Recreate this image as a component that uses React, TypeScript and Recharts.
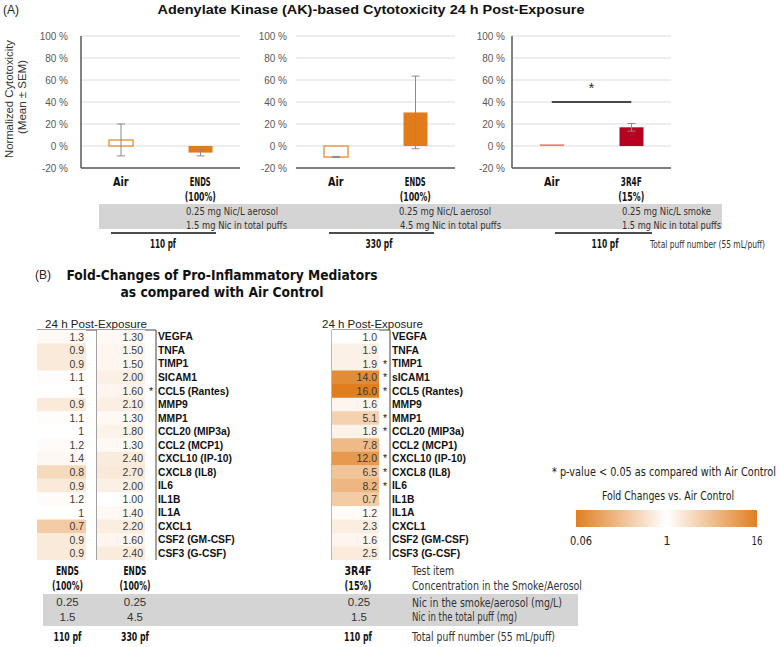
import React from 'react'
import {
  BarChart, Bar, XAxis, YAxis, CartesianGrid, ErrorBar, Cell,
  ReferenceLine, Label, LabelList,
} from 'recharts'

const SANS = '"Liberation Sans", Arial, Helvetica, sans-serif'
const NARROW = '"Liberation Sans Narrow", "Arial Narrow", "DejaVu Sans Condensed", sans-serif'

// (A) AK cytotoxicity, % of control
const akTicks = [-20, 0, 20, 40, 60, 80, 100]
const ak110Cats = ['Air', 'ENDS|(100%)']
const ak110Mean = [5.5, -6]
const ak110Sem = [14.5, 3]
const ak330Cats = ['Air', 'ENDS|(100%)']
const ak330Mean = [-10, 30.5]
const ak330Sem = [0.5, 33]
const ak3r4fCats = ['Air', '3R4F|(15%)']
const ak3r4fMean = [1.5, 17]
const ak3r4fSem = [0, 3.5]

// (B) fold changes vs air
const genes = [
  'VEGFA', 'TNFA', 'TIMP1', 'SICAM1', 'CCL5 (Rantes)', 'MMP9', 'MMP1', 'CCL20 (MIP3a)',
  'CCL2 (MCP1)', 'CXCL10 (IP-10)', 'CXCL8 (IL8)', 'IL6', 'IL1B', 'IL1A', 'CXCL1',
  'CSF2 (GM-CSF)', 'CSF3 (G-CSF)',
]
const genes3r4f = genes.map((g) => (g === 'SICAM1' ? 'sICAM1' : g))
const fc110 = [1.3, 0.9, 0.9, 1.1, 1, 0.9, 1.1, 1, 1.2, 1.4, 0.8, 0.9, 1.2, 1, 0.7, 0.9, 0.9]
const fc330 = [1.3, 1.5, 1.5, 2.0, 1.6, 2.1, 1.3, 1.8, 1.3, 2.4, 2.7, 2.0, 1.0, 1.4, 2.2, 1.6, 2.4]
const fc3r4f = [1.0, 1.9, 1.9, 14.0, 16.0, 1.6, 5.1, 1.8, 7.8, 12.0, 6.5, 8.2, 0.7, 1.2, 2.3, 1.6, 2.5]
const sig330 = [0, 0, 0, 0, 1, 0, 0, 0, 0, 0, 0, 0, 0, 0, 0, 0, 0]
const sig3r4f = [0, 0, 1, 1, 1, 0, 1, 1, 0, 1, 1, 1, 0, 0, 0, 0, 0]
const scaleLabels = ['0.06', '1', '16']

const ORANGE = [224, 126, 30]
function foldColor(v: number) {
  const lo = Number(scaleLabels[0])
  const hi = Number(scaleLabels[2])
  let t = v >= 1 ? (v - 1) / (hi - 1) : (1 - v) / (1 - lo)
  t = Math.pow(Math.min(1, Math.max(0, t)), 0.8)
  const c = ORANGE.map((o) => Math.round(255 - t * (255 - o)))
  return `rgb(${c[0]},${c[1]},${c[2]})`
}

function Txt({ x, y, size = 11, bold = false, font = SANS, anchor = 'start', len, fill = '#222', children }: any) {
  return (
    <text
      x={x}
      y={y + size * 0.35}
      fontSize={size}
      fontWeight={bold ? 700 : 400}
      fontFamily={font}
      textAnchor={anchor}
      fill={fill}
      textLength={len}
      lengthAdjust={len ? 'spacingAndGlyphs' : undefined}
    >
      {children}
    </text>
  )
}

// two-line condensed bold category labels
function CatTick({ x, y, payload }: any) {
  const lines = String(payload.value).split('|')
  return (
    <g>
      {lines.map((l, i) => (
        <text
          key={i}
          x={x}
          y={y + 16 + i * 15}
          textAnchor="middle"
          fontFamily={NARROW}
          fontWeight={700}
          fontSize={12}
          fill="#111"
          textLength={l.length * 5.2}
          lengthAdjust="spacingAndGlyphs"
        >
          {l}
        </text>
      ))}
    </g>
  )
}

const BAR_STYLE: Record<string, { fill: string; stroke?: string }> = {
  air: { fill: '#ffffff', stroke: '#eb9a48' },
  ends: { fill: '#e07c1c' },
  airSmoke: { fill: '#ec7a68' },
  smoke: { fill: '#b80020' },
}

function AkChart({ left, cats, means, sems, styles, tickGap, axisLine, sig }: any) {
  const rows = cats.map((c: string, i: number) => ({ cat: c, mean: means[i], sem: sems[i] }))
  return (
    <div style={{ position: 'absolute', left, top: 0 }}>
      <BarChart width={250} height={210} data={rows} margin={{ top: 36, right: 10, left: 0, bottom: 0 }} barSize={24}>
        <CartesianGrid vertical={false} stroke="#dcdcdc" />
        <XAxis
          dataKey="cat"
          height={42}
          interval={0}
          tickSize={0}
          tickLine={false}
          axisLine={{ stroke: '#595959', strokeWidth: 1.5 }}
          tick={<CatTick />}
        />
        <YAxis
          width={81}
          domain={[-20, 100]}
          ticks={akTicks}
          interval={0}
          tickFormatter={(v) => `${v} %`}
          axisLine={axisLine ? { stroke: '#595959', strokeWidth: 1.5 } : false}
          tickLine={false}
          tickSize={0}
          tickMargin={tickGap}
          tick={{ fontSize: 10, fill: '#595959', fontFamily: SANS }}
        />
        <Bar dataKey="mean" isAnimationActive={false}>
          {rows.map((_: any, i: number) => {
            const s = BAR_STYLE[styles[i]]
            return <Cell key={i} fill={s.fill} stroke={s.stroke || 'none'} strokeWidth={s.stroke ? 1.5 : 0} />
          })}
          <ErrorBar dataKey="sem" width={4} stroke="#8a8a8a" strokeWidth={1} />
        </Bar>
        {sig && (
          <ReferenceLine
            segment={[{ x: cats[0], y: 40 }, { x: cats[1], y: 40 }]}
            stroke="#111"
            strokeWidth={1.5}
          >
            <Label value="*" position="top" offset={9} fontSize={15} fill="#333" fontFamily={SANS} />
          </ReferenceLine>
        )}
      </BarChart>
    </div>
  )
}

function HeatColumn({ left, cellWidth, values, fmt, sig, labels }: any) {
  const rows = values.map((v: number, i: number) => ({
    gene: labels ? labels[i] : genes[i],
    fc: v,
    text: fmt(v),
    star: sig && sig[i] ? '*' : '',
  }))
  const axisW = labels ? 130 : 0
  return (
    <div style={{ position: 'absolute', left, top: 330 }}>
      <BarChart
        layout="vertical"
        width={cellWidth + axisW}
        height={230}
        data={rows}
        margin={{ top: 0, right: 0, left: 0, bottom: 0 }}
        barCategoryGap={0}
      >
        <XAxis type="number" domain={[0, 1]} hide />
        <YAxis
          type="category"
          dataKey="gene"
          orientation="right"
          width={axisW}
          hide={!labels}
          interval={0}
          axisLine={false}
          tickLine={false}
          tickSize={0}
          tickMargin={13}
          tick={{ fontSize: 10.3, fontWeight: 700, fill: '#111', fontFamily: SANS }}
        />
        <Bar dataKey={() => 1} isAnimationActive={false}>
          {rows.map((r: any, i: number) => (
            <Cell key={i} fill={foldColor(r.fc)} />
          ))}
          <LabelList dataKey="text" position="insideRight" offset={2} fontSize={10.5} fill="#3a3a3a" fontFamily={SANS} />
          <LabelList dataKey="star" position="right" offset={4} fontSize={10.5} fill="#222" fontFamily={SANS} />
        </Bar>
      </BarChart>
    </div>
  )
}

function Overlay() {
  return (
    <svg width={780} height={647} style={{ position: 'absolute', left: 0, top: 0 }}>
      <defs>
        <linearGradient id="fc" x1="0" x2="1" y1="0" y2="0">
          <stop offset="0" stopColor="#e07f22" />
          <stop offset="0.5" stopColor="#ffffff" />
          <stop offset="1" stopColor="#e07f22" />
        </linearGradient>
      </defs>
      {/* panel A */}
      <Txt x={3} y={10} size={12} len={16}>(A)</Txt>
      <Txt x={371} y={10} size={12.5} bold anchor="middle" len={427} fill="#111">
        Adenylate Kinase (AK)-based Cytotoxicity 24 h Post-Exposure
      </Txt>
      <g transform="rotate(-90 9 99)">
        <Txt x={9} y={99} size={11} anchor="middle" len={118} fill="#333">Normalized Cytotoxicity</Txt>
      </g>
      <g transform="rotate(-90 22.5 97)">
        <Txt x={22.5} y={97} size={11} anchor="middle" len={74} fill="#333">(Mean ± SEM)</Txt>
      </g>
      <rect x={99} y={204} width={623} height={25} fill="#d4d4d4" />
      <Txt x={186} y={211} font={NARROW} len={92} fill="#333">0.25 mg Nic/L aerosol</Txt>
      <Txt x={186} y={225} font={NARROW} len={101} fill="#333">1.5 mg Nic in total puffs</Txt>
      <Txt x={399} y={211} font={NARROW} len={92} fill="#333">0.25 mg Nic/L aerosol</Txt>
      <Txt x={400} y={225} font={NARROW} len={101} fill="#333">4.5 mg Nic in total puffs</Txt>
      <Txt x={622} y={211} font={NARROW} len={89} fill="#333">0.25 mg Nic/L smoke</Txt>
      <Txt x={622} y={225} font={NARROW} len={99} fill="#333">1.5 mg Nic in total puffs</Txt>
      <line x1={111} x2={216} y1={233} y2={233} stroke="#111" strokeWidth={1.5} />
      <line x1={329} x2={434} y1={233} y2={233} stroke="#111" strokeWidth={1.5} />
      <line x1={555} x2={652} y1={233} y2={233} stroke="#111" strokeWidth={1.5} />
      <Txt x={163} y={244} size={12} bold font={NARROW} anchor="middle" len={26} fill="#111">110 pf</Txt>
      <Txt x={379} y={244} size={12} bold font={NARROW} anchor="middle" len={27} fill="#111">330 pf</Txt>
      <Txt x={605} y={244} size={12} bold font={NARROW} anchor="middle" len={27} fill="#111">110 pf</Txt>
      <Txt x={650} y={244} font={NARROW} len={115} fill="#333">Total puff number (55 mL/puff)</Txt>

      {/* panel B */}
      <Txt x={35} y={275} size={12} len={16}>(B)</Txt>
      <Txt x={222} y={275} size={14} bold font={NARROW} anchor="middle" len={311} fill="#111">
        Fold-Changes of Pro-Inflammatory Mediators
      </Txt>
      <Txt x={222} y={292} size={14} bold font={NARROW} anchor="middle" len={203} fill="#111">
        as compared with Air Control
      </Txt>
      <Txt x={45} y={324} size={11.5} len={102} fill="#222">24 h Post-Exposure</Txt>
      <Txt x={322} y={324} size={11.5} len={101} fill="#222">24 h Post-Exposure</Txt>
      <line x1={37} x2={156} y1={330} y2={330} stroke="#444" />
      <line x1={97} x2={97} y1={330} y2={560} stroke="#444" />
      <line x1={156} x2={156} y1={330} y2={560} stroke="#444" />
      <line x1={332} x2={390} y1={330} y2={330} stroke="#444" />
      <line x1={332} x2={332} y1={330} y2={560} stroke="#777" />
      <line x1={390} x2={390} y1={330} y2={560} stroke="#444" />

      <Txt x={67.5} y={571} size={12} bold font={NARROW} anchor="middle" len={23} fill="#111">ENDS</Txt>
      <Txt x={67.5} y={586} size={12} bold font={NARROW} anchor="middle" len={31} fill="#111">(100%)</Txt>
      <Txt x={135} y={571} size={12} bold font={NARROW} anchor="middle" len={23} fill="#111">ENDS</Txt>
      <Txt x={135} y={586} size={12} bold font={NARROW} anchor="middle" len={31} fill="#111">(100%)</Txt>
      <Txt x={358} y={571} size={12} bold font={NARROW} anchor="middle" len={27} fill="#111">3R4F</Txt>
      <Txt x={358} y={586} size={12} bold font={NARROW} anchor="middle" len={27} fill="#111">(15%)</Txt>
      <Txt x={412} y={571} size={12} font={NARROW} len={42} fill="#333">Test item</Txt>
      <Txt x={412} y={586} size={12} font={NARROW} len={170} fill="#333">Concentration in the Smoke/Aerosol</Txt>
      <rect x={43} y={594} width={535} height={32} fill="#d4d4d4" />
      <Txt x={67.5} y={602} size={11.5} anchor="middle" fill="#333">0.25</Txt>
      <Txt x={67.5} y={617} size={11.5} anchor="middle" fill="#333">1.5</Txt>
      <Txt x={135} y={602} size={11.5} anchor="middle" fill="#333">0.25</Txt>
      <Txt x={135} y={617} size={11.5} anchor="middle" fill="#333">4.5</Txt>
      <Txt x={359} y={602} size={11.5} anchor="middle" fill="#333">0.25</Txt>
      <Txt x={359} y={617} size={11.5} anchor="middle" fill="#333">1.5</Txt>
      <Txt x={412} y={603} size={12} font={NARROW} len={150} fill="#333">Nic in the smoke/aerosol (mg/L)</Txt>
      <Txt x={412} y={617} size={12} font={NARROW} len={105} fill="#333">Nic in the total puff (mg)</Txt>
      <Txt x={67.5} y={637} size={12} bold font={NARROW} anchor="middle" len={28} fill="#111">110 pf</Txt>
      <Txt x={135} y={637} size={12} bold font={NARROW} anchor="middle" len={28} fill="#111">330 pf</Txt>
      <Txt x={358} y={637} size={12} bold font={NARROW} anchor="middle" len={28} fill="#111">110 pf</Txt>
      <Txt x={412} y={637} size={12} font={NARROW} len={143} fill="#333">Total puff number (55 mL/puff)</Txt>

      {/* legend */}
      <Txt x={552} y={472} size={12.5} font={NARROW} len={224} fill="#222">* p-value &lt; 0.05 as compared with Air Control</Txt>
      <Txt x={668} y={496} size={12.5} font={NARROW} anchor="middle" len={132} fill="#222">Fold Changes vs. Air Control</Txt>
      <rect x={576} y={510} width={181} height={17} fill="url(#fc)" />
      <Txt x={581} y={540} size={13} font={NARROW} anchor="middle" len={22} fill="#222">{scaleLabels[0]}</Txt>
      <Txt x={667} y={540} size={13} font={NARROW} anchor="middle" fill="#222">{scaleLabels[1]}</Txt>
      <Txt x={757} y={540} size={13} font={NARROW} anchor="middle" len={11} fill="#222">{scaleLabels[2]}</Txt>
    </svg>
  )
}

export default function App() {
  return (
    <div style={{ position: 'absolute', left: 0, top: 0, width: 780, height: 647, background: '#fff' }}>
      <Overlay />
      <AkChart left={0} cats={ak110Cats} means={ak110Mean} sems={ak110Sem} styles={['air', 'ends']} tickGap={13} axisLine />
      <AkChart left={215} cats={ak330Cats} means={ak330Mean} sems={ak330Sem} styles={['air', 'ends']} tickGap={9} axisLine={false} />
      <AkChart left={431} cats={ak3r4fCats} means={ak3r4fMean} sems={ak3r4fSem} styles={['airSmoke', 'smoke']} tickGap={7} axisLine sig />
      <HeatColumn left={37} cellWidth={49} values={fc110} fmt={(v: number) => String(v)} />
      <HeatColumn left={97} cellWidth={48} values={fc330} fmt={(v: number) => v.toFixed(2)} sig={sig330} labels={genes} />
      <HeatColumn left={332} cellWidth={47} values={fc3r4f} fmt={(v: number) => v.toFixed(1)} sig={sig3r4f} labels={genes3r4f} />
    </div>
  )
}
